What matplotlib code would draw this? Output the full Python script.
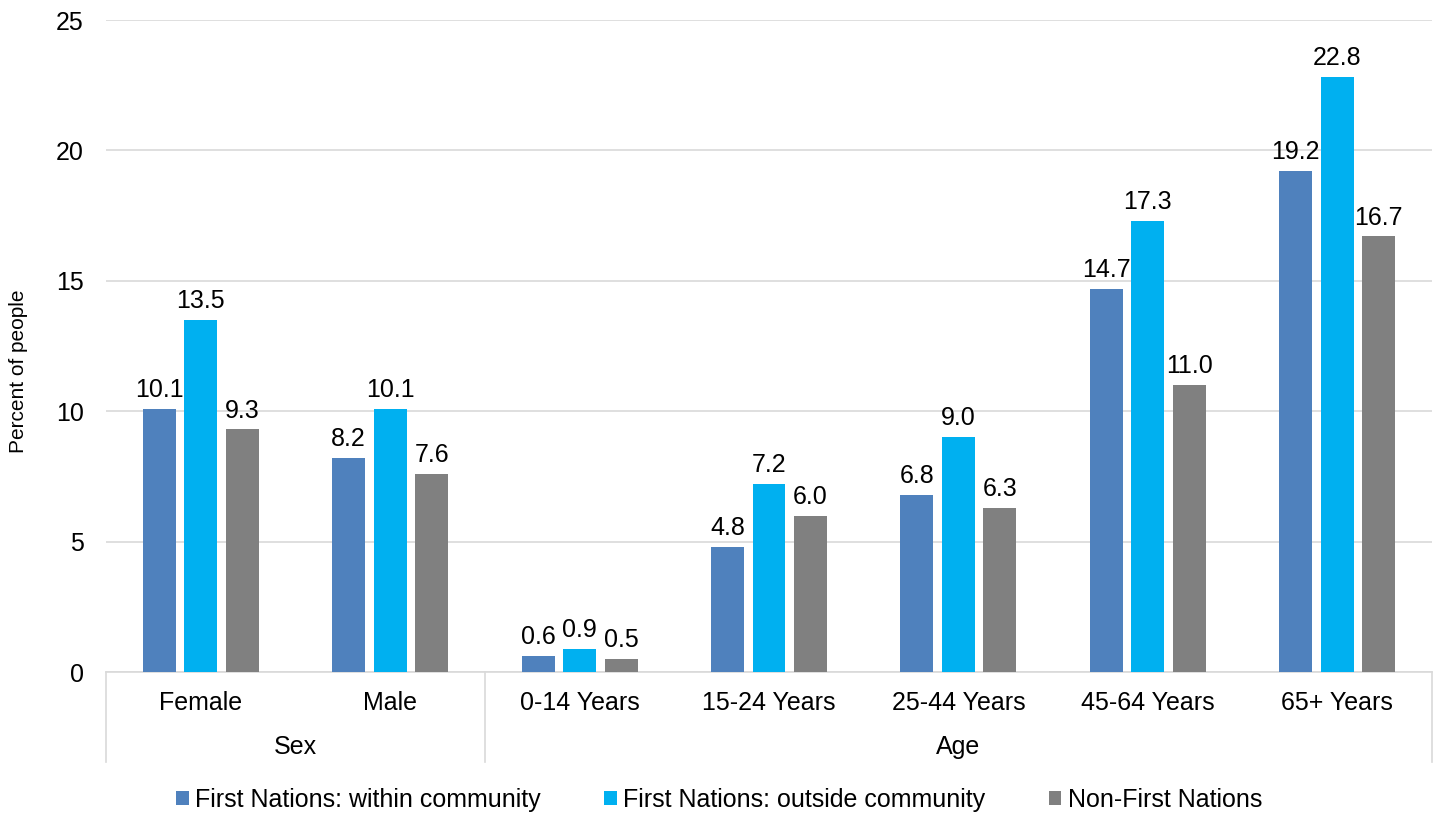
import matplotlib
matplotlib.use("Agg")
import matplotlib.pyplot as plt
from matplotlib.patches import Patch
from matplotlib.transforms import blended_transform_factory
import numpy as np

plt.rcParams['font.family'] = ['Liberation Sans', 'DejaVu Sans']

categories = ["Female", "Male", "0-14 Years", "15-24 Years", "25-44 Years", "45-64 Years", "65+ Years"]
groups = ["Sex", "Age"]
group_sizes = [2, 5]
series_names = ["First Nations: within community", "First Nations: outside community", "Non-First Nations"]
within = [10.1, 8.2, 0.6, 4.8, 6.8, 14.7, 19.2]
outside = [13.5, 10.1, 0.9, 7.2, 9.0, 17.3, 22.8]
non_fn = [9.3, 7.6, 0.5, 6.0, 6.3, 11.0, 16.7]
colors = ["#4F81BD", "#00B0F0", "#808080"]
yticks = [0, 5, 10, 15, 20, 25]

W, H = 1438, 815
fig = plt.figure(figsize=(W / 100, H / 100), dpi=100)
ax = fig.add_axes([106 / W, 1 - 672 / H, (1432 - 106) / W, (672 - 20) / H])

x = np.arange(len(categories))
bw = 0.174
step = 0.219
fs = 18

for i, (vals, col) in enumerate(zip([within, outside, non_fn], colors)):
    pos = x + (i - 1) * step
    bars = ax.bar(pos, vals, width=bw, color=col, zorder=3)
    for b, v in zip(bars, vals):
        ax.annotate(f"{v:.1f}", (b.get_x() + b.get_width() / 2, v),
                    xytext=(0, 5), textcoords="offset points",
                    ha="center", va="bottom", fontsize=fs, color="#000000")

ax.set_xlim(-0.5, len(categories) - 0.5)
ax.set_ylim(0, 25)
ax.set_yticks(yticks)
ax.yaxis.grid(True, color="#D9D9D9", linewidth=1.2, zorder=0)
ax.set_axisbelow(True)
for s in ["top", "right", "left"]:
    ax.spines[s].set_visible(False)
ax.spines["bottom"].set_color("#D9D9D9")
ax.spines["bottom"].set_linewidth(1.2)
ax.tick_params(axis="y", length=0, pad=16, labelsize=fs)
ax.set_xticks([])

fig.text(19 / W, 1 - 371 / H, "Percent of people", rotation=90,
         ha="center", va="center", fontsize=15)

trans = blended_transform_factory(ax.transData, ax.transAxes)
ah = 652.0
for xi, lab in zip(x, categories):
    ax.text(xi, -31 / ah, lab, transform=trans, ha="center", va="center", fontsize=fs)

# group brackets: vertical separators and group labels
start = 0
edges = [-0.5]
for g, n in zip(groups, group_sizes):
    mid = start + (n - 1) / 2
    ax.text(mid, -75 / ah, g, transform=trans, ha="center", va="center", fontsize=fs)
    start += n
    edges.append(start - 0.5)
for e in edges:
    ax.plot([e, e], [0, -90 / ah], transform=trans, color="#D9D9D9",
            linewidth=1.2, clip_on=False)

handles = [Patch(facecolor=c, edgecolor="none") for c in colors]
fig.legend(handles, series_names, loc="center", bbox_to_anchor=(0.5, 1 - 800 / H),
           ncol=3, frameon=False, fontsize=fs, handlelength=0.5, handleheight=0.5,
           handletextpad=0.25, columnspacing=2.55)

fig.savefig("out.png", dpi=100)
